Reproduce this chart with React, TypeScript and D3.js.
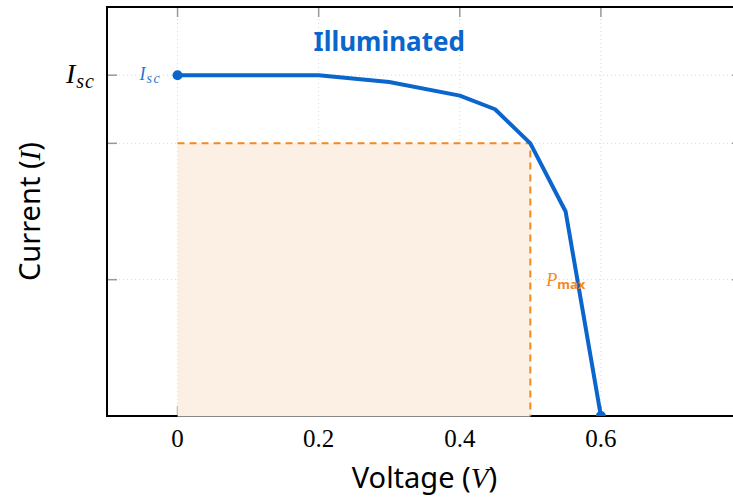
import React from 'react';
import { scaleLinear, line } from 'd3';

// I-V curve of an illuminated cell
const voltage = [0, 0.2, 0.3, 0.4, 0.45, 0.5, 0.55, 0.6];
const current = [2.5, 2.5, 2.45, 2.35, 2.25, 2.0, 1.5, 0];
const xTicks = [0, 0.2, 0.4, 0.6, 0.8];
const xLabels = ['0', '0.2', '0.4', '0.6', ''];
const yTicks = [1, 2, 2.5];
const iscValue = 2.5;
const pmaxV = 0.5;
const pmaxI = 2.0;

const W = 733;
const H = 497;
const left = 107, right = 742, top = 7, bottom = 416;

const blue = '#0a66cc';
const orange = '#f28a1e';
const serif = '"Liberation Serif", "DejaVu Serif", serif';
const sans = '"Noto Sans", "Open Sans", sans-serif';

function App() {
    const x = scaleLinear().domain([-0.1, 0.8]).range([left, right]);
    const y = scaleLinear().domain([0, 3]).range([bottom, top]);

    const pts = voltage.map((v, i) => [v, current[i]] as [number, number]);
    const curve = line<[number, number]>()
        .x((d) => x(d[0]))
        .y((d) => y(d[1]));

    return (
        <div style={{ position: 'absolute', left: 0, top: 0 }}>
            <svg width={W} height={H}>
                <defs>
                    <clipPath id="plot">
                        <rect x={left} y={top} width={right - left} height={bottom - top} />
                    </clipPath>
                </defs>
                <rect width={W} height={H} fill="white" />

                {/* grid */}
                <g stroke="#d8d8d8" strokeWidth={1} strokeDasharray="1,3">
                    {xTicks.map((t) => (
                        <line key={'gx' + t} x1={x(t)} x2={x(t)} y1={top} y2={bottom} />
                    ))}
                    {yTicks.map((t) => (
                        <line key={'gy' + t} x1={left} x2={right} y1={y(t)} y2={y(t)} />
                    ))}
                </g>

                {/* ticks, pointing inward */}
                <g stroke="#999" strokeWidth={1.5}>
                    {xTicks.map((t) => (
                        <React.Fragment key={'tx' + t}>
                            <line x1={x(t)} x2={x(t)} y1={top} y2={top + 10} />
                            <line x1={x(t)} x2={x(t)} y1={bottom} y2={bottom - 10} />
                        </React.Fragment>
                    ))}
                    {yTicks.map((t) => (
                        <React.Fragment key={'ty' + t}>
                            <line x1={left} x2={left + 10} y1={y(t)} y2={y(t)} />
                            <line x1={right} x2={right - 10} y1={y(t)} y2={y(t)} />
                        </React.Fragment>
                    ))}
                </g>

                {/* frame */}
                <rect x={left} y={top} width={right - left} height={bottom - top}
                    fill="none" stroke="black" strokeWidth={2} />

                {/* max power rectangle */}
                <rect x={x(0)} y={y(pmaxI)} width={x(pmaxV) - x(0)} height={y(0) - y(pmaxI)}
                    fill="#fcf0e4" />
                <line x1={x(0)} x2={x(pmaxV)} y1={y(0) + 0.5} y2={y(0) + 0.5} stroke="#888" strokeWidth={1.2} />
                <path d={`M${x(0)},${y(pmaxI)} H${x(pmaxV)} V${y(0)}`}
                    fill="none" stroke={orange} strokeWidth={2} strokeDasharray="7,5" />

                {/* curve */}
                <g clipPath="url(#plot)">
                    <path d={curve(pts) || ''} fill="none" stroke={blue} strokeWidth={4}
                        strokeLinejoin="round" />
                    <circle cx={x(voltage[0])} cy={y(current[0])} r={5} fill={blue} />
                    <circle cx={x(voltage[voltage.length - 1])} cy={y(current[current.length - 1])} r={5} fill={blue} />
                </g>

                {/* title */}
                <text x={x(0.3)} y={51} textAnchor="middle" fill={blue}
                    fontFamily={sans} fontWeight="bold" fontSize={26}>Illuminated</text>

                {/* in-plot labels */}
                <text x={x(0) - 38} y={y(iscValue) + 5} fill="#2a76d2" fontFamily={serif} fontStyle="italic" fontSize={18}>
                    I<tspan fontSize={14} dx={1} dy={3} letterSpacing={1.5}>sc</tspan>
                </text>
                <text x={x(pmaxV) + 16} y={y(1) + 6} fill={orange}>
                    <tspan fontFamily={serif} fontStyle="italic" fontSize={18}>P</tspan>
                    <tspan fontFamily={sans} fontWeight="bold" fontSize={13} dy={3}>max</tspan>
                </text>

                {/* x tick labels */}
                {xTicks.map((t, i) => (
                    <text key={'lx' + t} x={x(t)} y={447} textAnchor="middle"
                        fontFamily={serif} fontSize={25}>{xLabels[i]}</text>
                ))}

                {/* y tick label */}
                <text x={95} y={y(iscValue) + 8} textAnchor="end" fontFamily={serif} fontStyle="italic" fontSize={28}>
                    I<tspan fontSize={20} dx={1} dy={5} letterSpacing={1}>sc</tspan>
                </text>

                {/* axis labels */}
                <text x={(left + right) / 2} y={488} textAnchor="middle" fontFamily={sans} fontSize={29}>
                    Voltage (<tspan fontFamily={serif} fontStyle="italic">V</tspan>)
                </text>
                <text transform={`translate(40,${(top + bottom) / 2}) rotate(-90)`} textAnchor="middle"
                    fontFamily={sans} fontSize={29}>
                    Current (<tspan fontFamily={serif} fontStyle="italic">I</tspan>)
                </text>
            </svg>
        </div>
    );
}

export default App;
